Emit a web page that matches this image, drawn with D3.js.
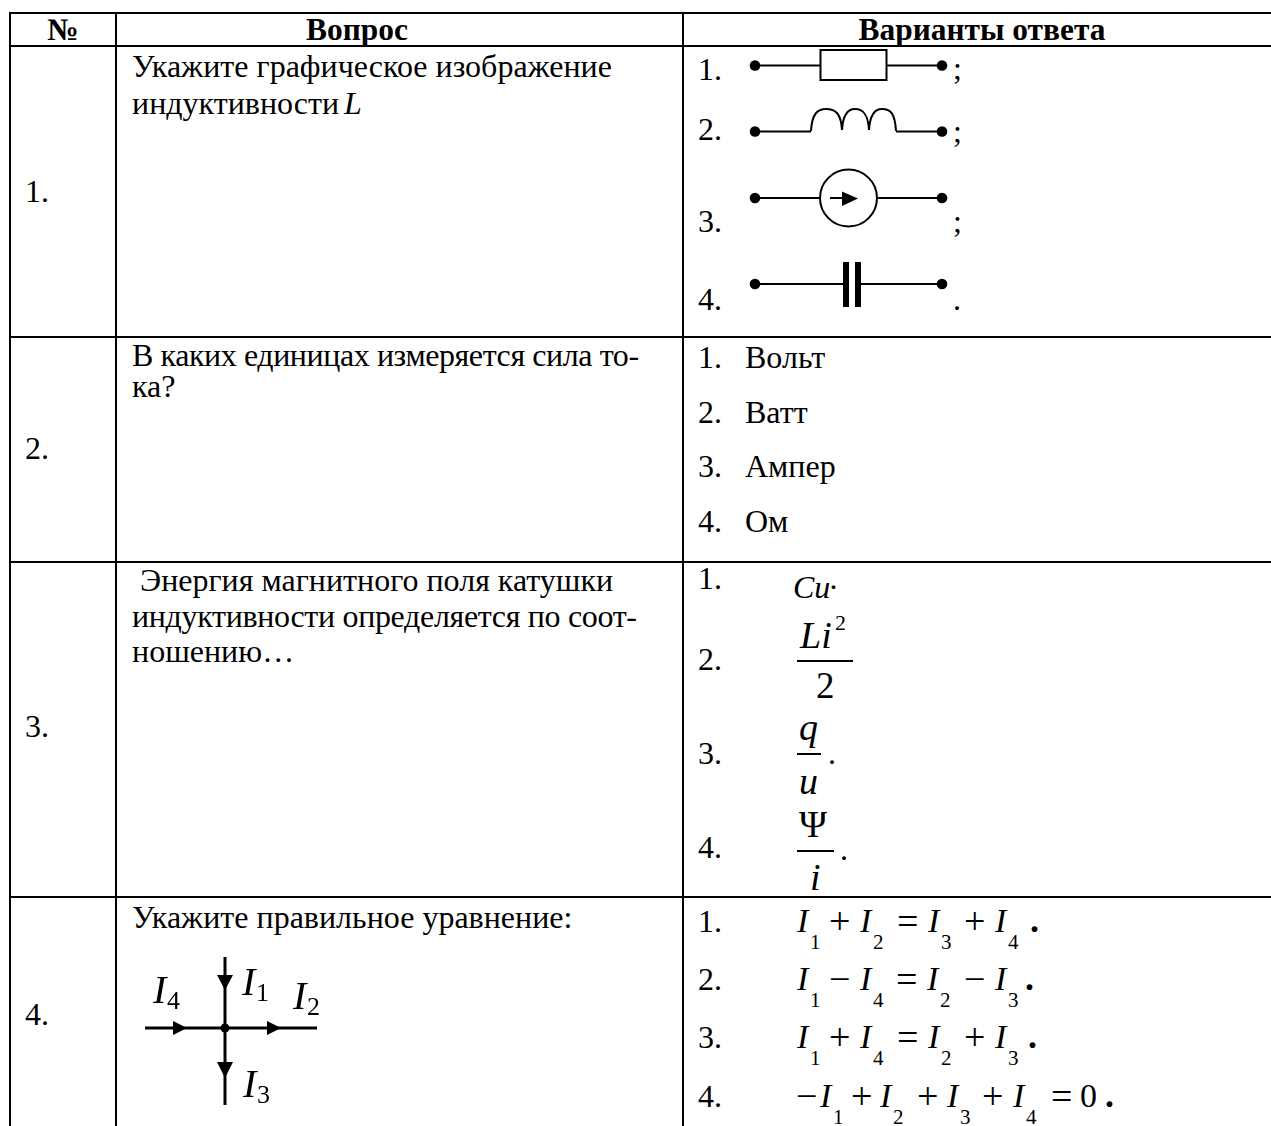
<!DOCTYPE html>
<html><head><meta charset="utf-8"><script src="https://cdn.jsdelivr.net/npm/d3@7"></script>
<style>html,body{margin:0;padding:0;background:#fff;overflow:hidden}svg{display:block}
text{font-family:"Liberation Serif",serif;fill:#000;white-space:pre}</style></head><body><div id="c"></div>
<script>
const headers = ["№","Вопрос","Варианты ответа"];
const rowNumbers = ["1.","2.","3.","4."];
const questions = [
 ["Укажите графическое изображение","индуктивности"],
 ["В каких единицах измеряется сила то-","ка?"],
 [" Энергия магнитного поля катушки","индуктивности определяется по соот-","ношению…"],
 ["Укажите правильное уравнение:"]
];
const optionLabels = ["1.","2.","3.","4."];
const units = ["Вольт","Ватт","Ампер","Ом"];
const equations = [
 ["I1","+","I2","=","I3","+","I4","."],
 ["I1","−","I4","=","I2","−","I3","."],
 ["I1","+","I4","=","I2","+","I3","."],
 ["−","I1","+","I2","+","I3","+","I4","=","0","."]
];

// layout
const colEdges = [10,116,683];
const rowEdges = [13,46,337,562,897];
const questionY = [[77,114],[366,397],[591,627,662],[928]];
const questionTracking = [[0,0],[-0.42,0],[0,-0.33,0],[0]];
const optionY = [[80,140,232,310],[368,423,477,532],[589,670,764,858],[932,990,1048,1107]];
const rowNumY = [202,459,737,1025];
const eqX = [
 [797,830,860,898,928,965,995,1030],
 [797,830,860,897,927,965,995,1025],
 [797,830,860,898,928,965,995,1028],
 [797,820,852,880,918,947,983,1013,1052,1080,1105]
];

const svg = d3.select("#c").append("svg").attr("width",1271).attr("height",1126);
const F = 32;
function T(s,x,y,o={}){const t=svg.append("text").attr("x",x).attr("y",y).attr("font-size",o.size||F).text(s);
 if(o.bold)t.attr("font-weight","bold"); if(o.it)t.attr("font-style","italic"); if(o.anchor)t.attr("text-anchor",o.anchor); if(o.ls)t.attr("letter-spacing",o.ls); return t;}
function L(x1,y1,x2,y2,w=2,g=svg){g.append("line").attr("x1",x1).attr("y1",y1).attr("x2",x2).attr("y2",y2).attr("stroke","#000").attr("stroke-width",w);}

// grid: the table runs off the right edge of the picture
colEdges.forEach(x=>L(x,rowEdges[0]-1,x,1126,2));
rowEdges.forEach(y=>L(colEdges[0]-1,y,1271,y,2));

// headers
[63,357,982].forEach((x,i)=>T(headers[i],x,40,{bold:1,anchor:"middle",size:31.4}));

rowNumbers.forEach((n,i)=>T(n,25,rowNumY[i]));
questions.forEach((q,i)=>q.forEach((l,j)=>T(l,132,questionY[i][j],{ls:questionTracking[i][j]})));
T("L",344,114,{it:1});
optionY.forEach(r=>r.forEach((y,i)=>T(optionLabels[i],698,y)));
units.forEach((u,i)=>T(u,745,optionY[1][i]));

// schematic symbols
function ends(y){[755,942].forEach(x=>svg.append("circle").attr("cx",x).attr("cy",y).attr("r",5.3));}
ends(65.5);L(755,65.5,820,65.5);L(887,65.5,942,65.5);
svg.append("rect").attr("x",820.5).attr("y",50).attr("width",66).attr("height",30).attr("fill","none").attr("stroke","#000").attr("stroke-width",2);
T(";",953,79);
ends(131.5);L(755,131.5,811,131.5);L(896,131.5,942,131.5);
const coil=d3.path();
coil.moveTo(811,131);coil.bezierCurveTo(812,113,818,109,826,109);coil.bezierCurveTo(836,109,841,114,842,130);
coil.bezierCurveTo(843,114,848,109,855,109);coil.bezierCurveTo(863,109,868,114,869,130);
coil.bezierCurveTo(870,114,875,109,882,109);coil.bezierCurveTo(891,109,895,114,896,131);
svg.append("path").attr("fill","none").attr("stroke","#000").attr("stroke-width",2).attr("d",coil.toString());
T(";",953,142);
ends(198);L(755,198,820,198);L(877,198,942,198);
svg.append("circle").attr("cx",848.5).attr("cy",198).attr("r",28.5).attr("fill","none").attr("stroke","#000").attr("stroke-width",2);
L(830,198,845,198);
svg.append("path").attr("d",d3.line()([[842,191.5],[858,198.5],[842,206]])).attr("fill","#000");
T(";",953,232);
ends(284);L(755,284,846,284);L(858,284,942,284);
L(846,262,846,307,6);L(858,262,858,307,6);
T(".",953,310);

// formulas of question 3
T("Cu",793,598,{it:1}); T("·",829,598,{it:1});
T("Li",800,648,{it:1,size:38}); T("2",835,630,{size:22});
L(797,661,853,661);T("2",816,698,{size:37});
T("q",799,740,{it:1,size:38});L(797,754,821,754);T("u",799,794,{it:1,size:38});T(".",828,764);
T("Ψ",799,837,{size:38});L(797,851,834,851);T("i",810,890,{it:1,size:38});T(".",840,860);

// equations of question 4
equations.forEach((eq,i)=>{
 const y=optionY[3][i];
 eq.forEach((tk,j)=>{
  const x=eqX[i][j];
  if(tk[0]==="I"){T("I",x,y,{it:1,size:34});T(tk[1],x+13,y+17,{size:21});}
  else if(tk===".")T(".",x,y,{size:36,bold:1});
  else if(tk==="0")T(tk,x,y,{size:34});
  else T(tk,x-1,y+2,{size:38});
 });
});

// node diagram of question 4
const defs=svg.append("defs");
defs.append("filter").attr("id","soft").append("feGaussianBlur").attr("stdDeviation",0.5);
const g=svg.append("g").attr("filter","url(#soft)");
L(145,1028,317,1028,3,g);L(225,957,225,1105,3,g);
g.append("circle").attr("cx",225).attr("cy",1028).attr("r",4.5);
const tri=p=>g.append("path").attr("d",d3.line()(p)).attr("fill","#000");
tri([[173,1021],[187,1028],[173,1035]]);tri([[267,1021],[281,1028],[267,1035]]);
tri([[217,975],[225,990],[233,975]]);tri([[217,1062],[225,1078],[233,1062]]);
const nodeLabels=["4","1","2","3"], nodeX=[153,242,293,243], nodeY=[1003,995,1009,1097];
nodeLabels.forEach((n,i)=>{
 g.append("text").attr("x",nodeX[i]).attr("y",nodeY[i]).attr("font-size",40).attr("font-style","italic").text("I");
 g.append("text").attr("x",nodeX[i]+14).attr("y",nodeY[i]+6).attr("font-size",26).text(n);
});
</script></body></html>
